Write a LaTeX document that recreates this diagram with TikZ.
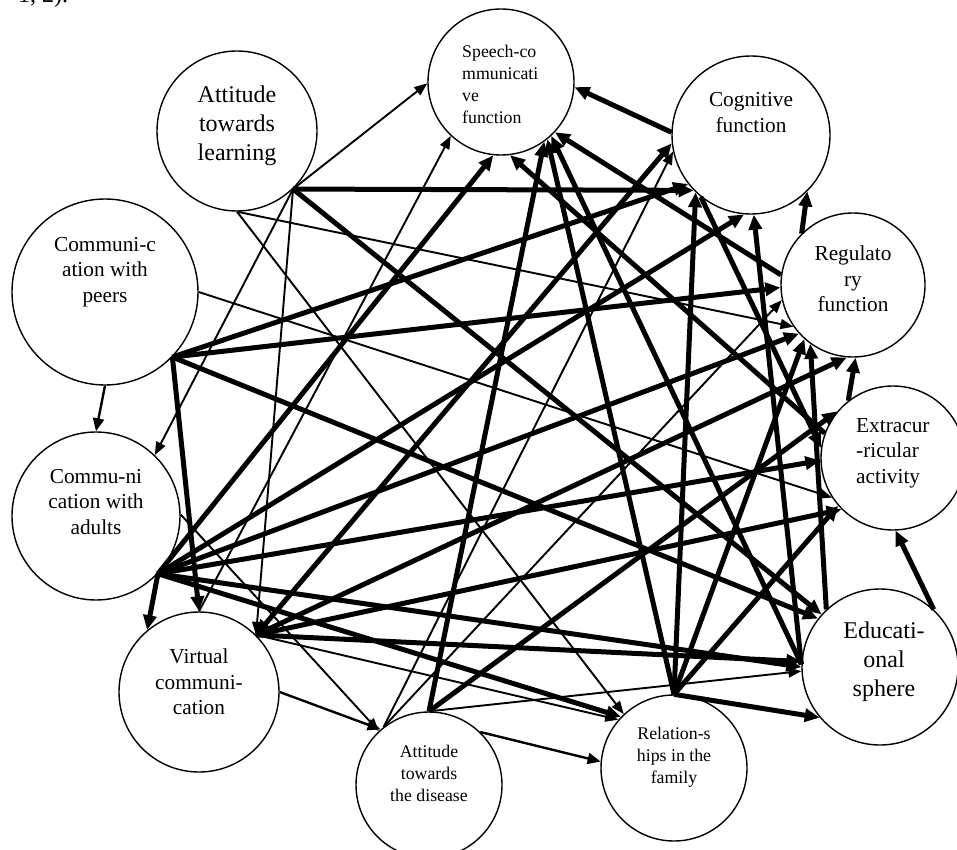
\documentclass[tikz,border=0pt]{standalone}
\usepackage{fontspec}
\setmainfont{Liberation Serif}
\usetikzlibrary{arrows.meta}

\begin{document}
\begin{tikzpicture}[
			x=1pt, y=-1pt,
			topic/.style={circle, draw, line width=1.4pt, inner sep=0pt},
			big/.style={align=center, inner sep=0pt, font=\fontsize{24pt}{29pt}\selectfont},
			mid/.style={align=center, inner sep=0pt, font=\fontsize{21.3pt}{25.5pt}\selectfont},
			small/.style={align=center, inner sep=0pt, font=\fontsize{17.8pt}{22pt}\selectfont},
			strong/.style={-{Triangle[length=15pt,width=13pt]}, line width=5pt},
			mutual/.style={{Triangle[length=15pt,width=13pt]}-{Triangle[length=15pt,width=13pt]}, line width=5pt},
			medium/.style={-{Triangle[length=13pt,width=11pt]}, line width=2.4pt},
			weak/.style={-{Triangle[length=13pt,width=10pt]}, line width=1.9pt}
			]
			\useasboundingbox (0,0) rectangle (957,850);
			\clip (0,0) rectangle (957,850);
			
			% text cut off above the figure
			\node[big, anchor=base west] (cut) at (18,3) {1, 2).};
			
			% Top row
			\node[topic, minimum size=160pt] (AL) at (237,131) {};
			\node[topic, minimum size=146pt] (SC) at (501,82) {};
			\node[topic, minimum size=158pt] (CF) at (751,135) {};
			
			% Left side
			\node[topic, minimum size=186pt] (CP) at (105,292) {};
			\node[topic, minimum size=168pt] (CA) at (96,516) {};
			\node[topic, minimum size=160pt] (VC) at (199,692) {};
			
			% Right side
			\node[topic, minimum size=144pt] (RF) at (853,285) {};
			\node[topic, minimum size=144pt] (EA) at (893,458) {};
			\node[topic, minimum size=156pt] (ES) at (880,667) {};
			
			% Bottom row
			\node[topic, minimum size=146pt] (AD) at (429,785) {};
			\node[topic, minimum size=146pt] (RS) at (674,768) {};
			
			% Texts
			\node[big] (AL-t) at ([yshift=5pt]AL) {Attitude\\towards\\learning};
			\node[small, align=left, anchor=west] (SC-t) at ([xshift=-39pt, yshift=-2pt]SC) {Speech-co\\mmunicati\\ve\\function};
			\node[mid] (CF-t) at ([yshift=22.5pt]CF) {Cognitive\\function};
			\node[mid] (CP-t) at ([yshift=20pt]CP) {Communi-c\\ation with\\peers};
			\node[mid] (CA-t) at ([yshift=14pt]CA) {Commu-ni\\cation with\\adults};
			\node[mid] (VC-t) at ([yshift=10pt]VC) {Virtual\\communi-\\cation};
			\node[mid] (RF-t) at ([yshift=6pt]RF) {Regulato\\ry\\function};
			\node[mid, align=left, anchor=west] (EA-t) at ([xshift=-37pt, yshift=5pt]EA) {Extracur\\-ricular\\activity};
			\node[big] (ES-t) at ([xshift=4pt, yshift=5pt]ES) {Educati-\\onal\\sphere};
			\node[small] (AD-t) at ([yshift=12pt]AD) {Attitude\\towards\\the disease};
			\node[small] (RS-t) at ([yshift=11pt]RS) {Relation-s\\hips in the\\family};
			
			% Arrows from Attitude towards learning
			\draw[weak] (AL.314) -- (SC.181);
			\draw[strong] (AL.314) -- (CF.224);
			\draw[strong] (AL.314) -- (ES.138);
			\draw[weak] (AL.314) -- (CA.46);
			\draw[weak] (AL.314) -- (VC.45);
			\draw[weak] (AL.270) -- (RF.215);
			\draw[weak] (AL.270) -- (RS.133);
			
			% Arrows from Communication with peers
			\draw[strong] (CP.316) -- (CF.218);
			\draw[strong] (CP.316) -- (RF.182);
			\draw[strong] (CP.316) -- (ES.142);
			\draw[strong] (CP.316) -- (VC.90);
			\draw[weak] (CP.0) -- (EA.213);
			\draw[medium] (CP.270) -- (CA.90);
			
			% Arrows from Communication with adults
			\draw[strong] (CA.317) -- (SC.264);
			\draw[strong] (CA.317) -- (CF.265);
			\draw[strong] (CA.317) -- (RF.222);
			\draw[strong] (CA.317) -- (EA.182);
			\draw[strong] (CA.317) -- (ES.180);
			\draw[strong] (CA.317) -- (RS.136);
			\draw[strong] (CA.317) -- (VC.130);
			\draw[weak] (CA.1) -- (AD.133);
			
			% Arrows from Virtual communication
			\draw[mutual] (VC.45) -- (CF.186);
			\draw[strong] (VC.45) -- (RF.265);
			\draw[strong] (VC.45) -- (EA.225);
			\draw[strong] (VC.45) -- (ES.176);
			\draw[weak] (VC.45) -- (RS.139);
			\draw[weak] (VC.90) -- (SC.227);
			\draw[medium] (VC.0) -- (AD.131);
			
			% Arrows from Attitude towards the disease
			\draw[strong] (AD.90) -- (SC.306);
			\draw[strong] (AD.90) -- (EA.140);
			\draw[weak] (AD.90) -- (ES.183);
			\draw[weak] (AD.128) -- (CF.192);
			\draw[weak] (AD.128) -- (RF.192);
			\draw[medium] (AD.46) -- (RS.175);
			
			% Arrows from Relationships in the family
			\draw[strong] (RS.90) -- (SC.309);
			\draw[strong] (RS.90) -- (CF.226);
			\draw[strong] (RS.90) -- (RF.228);
			\draw[strong] (RS.90) -- (EA.221);
			\draw[strong] (RS.90) -- (ES.220);
			
			% Arrows from Educational sphere
			\draw[strong] (ES.178) -- (SC.313);
			\draw[strong] (ES.178) -- (CF.272);
			\draw[strong] (ES.133) -- (RF.234);
			\draw[strong] (ES.47) -- (EA.272);
			
			% Arrows from Extracurricular activity
			\draw[strong] (EA.160) -- (SC.277);
			\draw[strong] (EA.128) -- (RF.272);
			
			% Arrows from Regulatory function
			\draw[strong] (RF.172) -- (SC.317);
			\draw[strong] (RF.135) -- (CF.315);
			
			% Arrows from Cognitive function
			\draw[strong] (CF.178) -- (SC.356);
			\draw[strong] (CF.231) -- (EA.172);
			
		\end{tikzpicture}
\end{document}
